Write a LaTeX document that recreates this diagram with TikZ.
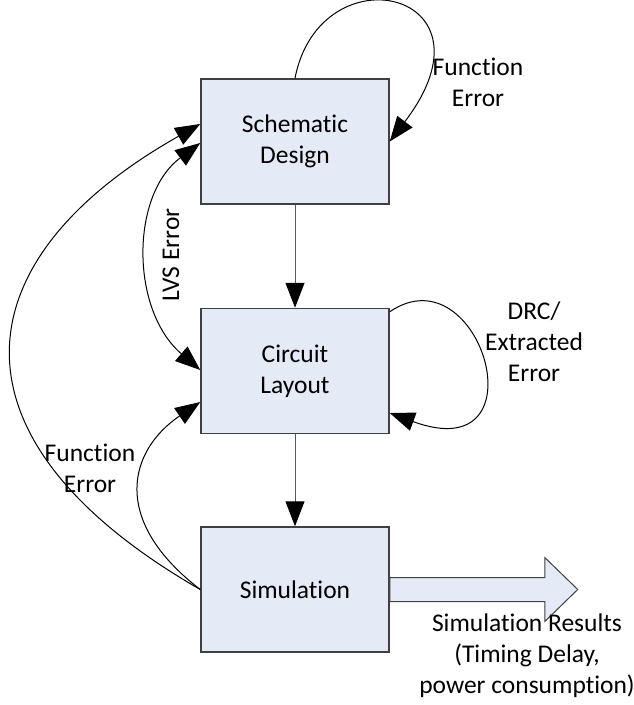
\documentclass[tikz,border=0pt]{standalone}
\usepackage{fontspec}
\setmainfont{Carlito}[Ligatures=NoCommon]
\usepackage{xcolor}
\usepackage{tikz}
\usetikzlibrary{arrows.meta}
\definecolor{boxfill}{HTML}{E4EAF6}
\definecolor{boxline}{HTML}{404040}
\definecolor{flowgray}{HTML}{595959}

\begin{document}
\begin{tikzpicture}[x=1pt, y=-1pt, line width=1pt,
    font=\fontsize{25.5}{31}\selectfont,
    block/.style={fill=boxfill, draw=boxline, line width=1.5pt,
      minimum width=188pt, minimum height=125pt, inner sep=0pt, align=center},
    note/.style={inner sep=0pt, align=center},
    fwd/.style={-{Triangle[length=25pt,width=19pt,color=black]}},
    both/.style={{Triangle[length=25pt,width=19pt]}-{Triangle[length=25pt,width=19pt]}}]
  \useasboundingbox (0,0) rectangle (634,705);
  % the three stages
  \foreach \n/\t/\y in {sd/{Schematic\\Design}/141.5, cl/{Circuit\\Layout}/371, sim/Simulation/589.5}{
    \node[block] (\n) at (295,\y) {\t};
  }
  \draw[fwd, flowgray] (sd) -- (cl);
  \draw[fwd, flowgray] (cl) -- (sim);
  % loops back
  \draw[fwd] (sd.north) .. controls +(25,-129) and +(115,-151) .. (sd.east);
  \draw[fwd] ([yshift=-4pt]cl.north east) .. controls +(91,-62) and +(155,57) .. ([yshift=-42pt]cl.east);
  \draw[fwd] (sim.west) .. controls +(-261,-150) and +(-241,136) .. ([yshift=17.5pt]sd.west);
  \draw[both] ([yshift=-1.5pt]sd.west) .. controls +(-70,52) and +(-70,-60) .. ([yshift=1pt]cl.west);
  \draw[fwd] (sim.west) .. controls +(-91,-70) and +(-71,48) .. ([yshift=-31pt]cl.west);
  % output arrow
  \draw[draw=boxline, fill=boxfill] ([yshift=12pt]sim.east) -- ++(155,0) -- ++(0,-20)
    -- ++(33,32) -- ++(-33,32) -- ++(0,-20) -- ([yshift=-12pt]sim.east) -- cycle;
  % labels
  \node[note] (fesd) at (478,82) {Function\\Error};
  \node[note] (drc) at (534,342) {DRC/\\Extracted\\Error};
  \node[note, rotate=90] (lvs) at (171,255) {LVS Error};
  \node[note] (fesim) at (90,468) {Function\\Error};
  \node[note] (res) at (527,656) {Simulation Results\\(Timing Delay,\\power consumption)};
\end{tikzpicture}
\end{document}
